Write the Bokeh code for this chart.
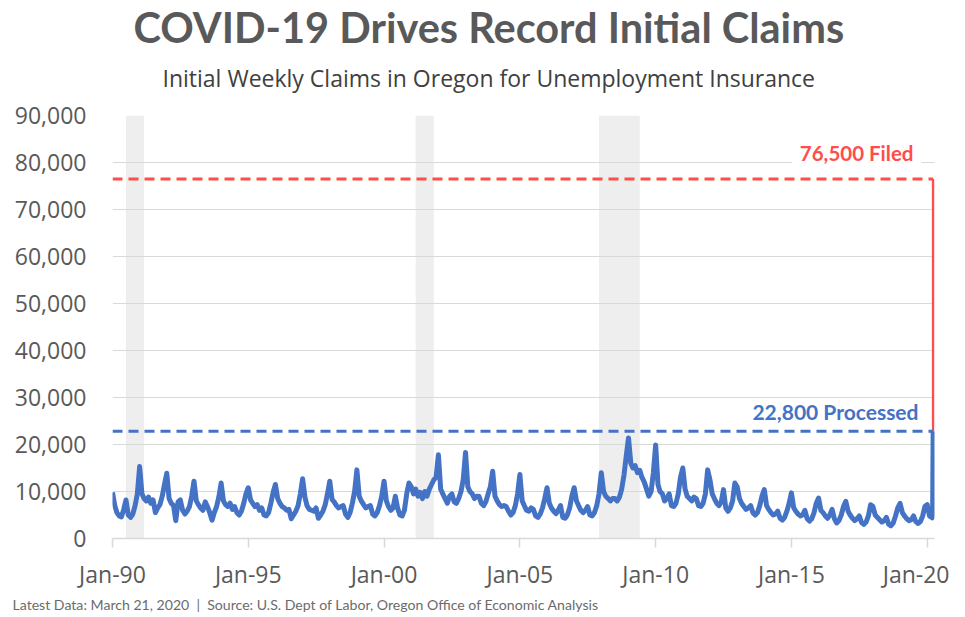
import pandas as pd
from bokeh.plotting import figure
from bokeh.models import (Range1d, FixedTicker, NumeralTickFormatter,
                          DatetimeTickFormatter, Label, Title, ColumnDataSource)
from bokeh.embed import file_html
from bokeh.resources import INLINE

# ---------------- data ----------------
TITLE = "COVID-19 Drives Record Initial Claims"
SUBTITLE = "Initial Weekly Claims in Oregon for Unemployment Insurance"
FOOTER = ("Latest Data: March 21, 2020 \u00a0|\u00a0 Source: U.S. Dept of Labor, "
          "Oregon Office of Economic Analysis")

# monthly readings (start of month), Jan 1990 .. Feb 2020
month_start = pd.date_range("1990-01-01", "2020-02-01", freq="MS")
claims_monthly = [
    9800, 7000, 5500, 4800, 4600, 6200, 8200, 5000, 4500, 5200, 7000, 9500,      # 1990
    15300, 9500, 8500, 8000, 8800, 7500, 8200, 5500, 6500, 7200, 9000, 11500,   # 1991
    13900, 8500, 7500, 7000, 3800, 7800, 8200, 6000, 5200, 5800, 6800, 9000,    # 1992
    12200, 8000, 7200, 6500, 6000, 7800, 6800, 5500, 3900, 5500, 6800, 8800,    # 1993
    11800, 8000, 7200, 6800, 7500, 6200, 6800, 5500, 5000, 5800, 7500, 9500,    # 1994
    10800, 8200, 7500, 6800, 7200, 6000, 6500, 5000, 4800, 5500, 7500, 9800,    # 1995
    11500, 8500, 7500, 6800, 6500, 6000, 6200, 4200, 5000, 5800, 7000, 9500,    # 1996
    12700, 8800, 7000, 6200, 6000, 5800, 6500, 4300, 5000, 5800, 7200, 9500,    # 1997
    12200, 8300, 7800, 7000, 6500, 6800, 7000, 5200, 4500, 5500, 7500, 10000,   # 1998
    14600, 9000, 8000, 7200, 6500, 6800, 7000, 5200, 4800, 5500, 7000, 9000,    # 1999
    12200, 8000, 6800, 6000, 6500, 9000, 6500, 5000, 4800, 6000, 9500, 11800,   # 2000
    11000, 9500, 10500, 9000, 9800, 8500, 10000, 9000, 10500, 11500, 12500, 13000,  # 2001
    17800, 10500, 9500, 8500, 7500, 9000, 9500, 7800, 7500, 8500, 10000, 12500,  # 2002
    18300, 11000, 10000, 9500, 8500, 9000, 9000, 7500, 7000, 7800, 9500, 11000,  # 2003
    14300, 9000, 8000, 7200, 6800, 7000, 6800, 5800, 5000, 5500, 7000, 9500,    # 2004
    13600, 8000, 7000, 6000, 5800, 6500, 6200, 4800, 4500, 5200, 6500, 8500,    # 2005
    10800, 7500, 6500, 5800, 5300, 6000, 7000, 4500, 4300, 5000, 6500, 9000,    # 2006
    10800, 8000, 7000, 6000, 5500, 6000, 6800, 5000, 4800, 5500, 7000, 9500,    # 2007
    14000, 10000, 9000, 8500, 8000, 8500, 8500, 8000, 8800, 10500, 13500, 17500,  # 2008
    21400, 16000, 15000, 15500, 14000, 14500, 13000, 12000, 10500, 9000, 10000, 14000,  # 2009
    19900, 11500, 10000, 9500, 8000, 8500, 9500, 7000, 6800, 7500, 9500, 13000,  # 2010
    15000, 10500, 9000, 8500, 8000, 8800, 8500, 7000, 6800, 7500, 9500, 14600,  # 2011
    12500, 9500, 8500, 7500, 7000, 7800, 10400, 6500, 5800, 6500, 8000, 11800,  # 2012
    11000, 8500, 7500, 6800, 6200, 6500, 7000, 5500, 5000, 5500, 7000, 9000,    # 2013
    10400, 7000, 6200, 5500, 5000, 5200, 5800, 4300, 3900, 4500, 5800, 7500,    # 2014
    9700, 6500, 5800, 5200, 4800, 5000, 6000, 4200, 3700, 4200, 5500, 7500,     # 2015
    8600, 6000, 5500, 4800, 4300, 5000, 6200, 4200, 3300, 3800, 5000, 6800,     # 2016
    7900, 5800, 5000, 4300, 3800, 4200, 4800, 3400, 3000, 3500, 4800, 7200,     # 2017
    6800, 5000, 4500, 4000, 3500, 3800, 4500, 3000, 2700, 3300, 4800, 6500,     # 2018
    7500, 5500, 4800, 4200, 3800, 4000, 4800, 3600, 3200, 3600, 4800, 6800,     # 2019
    7200, 4800,                                                                 # 2020
]
# last weekly readings
final_weeks = ["2020-03-07", "2020-03-14", "2020-03-21"]
final_claims = [4400, 5000, 22800]

FILED = 76500
PROCESSED = 22800
LATEST = "2020-03-21"

recession_start = ["1990-07-01", "2001-03-01", "2007-12-01"]
recession_end = ["1991-03-01", "2001-11-01", "2009-06-01"]

tick_dates = ["1990-01-01", "1995-01-01", "2000-01-01", "2005-01-01",
              "2010-01-01", "2015-01-01", "2020-01-01"]
y_ticks = [0, 10000, 20000, 30000, 40000, 50000, 60000, 70000, 80000, 90000]

# ---------------- layout ----------------
W, H = 949, 614
FL, FR, FT, FB = 112, 934, 115, 539     # plot frame in page pixels
ML, MR, MT, MB = FL, W - FR, FT, H - FB


def ms(d):
    return pd.Timestamp(d).value / 1e6


x0 = ms("1990-01-01")
x_jan20 = ms("2020-01-01")
x1 = x0 + (x_jan20 - x0) * (FR - FL) / (926.7 - FL)
Y1 = 90000


def xpx(px):
    return x0 + (px - FL) / (FR - FL) * (x1 - x0)


def ypx(py):
    return (FB - py) / (FB - FT) * Y1


GRAY = "#595959"
BLUE = "#4472c4"
RED = "#ff4d4d"

p = figure(width=W, height=H, x_axis_type="datetime",
           x_range=Range1d(x0, x1), y_range=Range1d(0, Y1),
           output_backend="svg", toolbar_location=None,
           min_border_left=ML, min_border_right=MR,
           min_border_top=MT, min_border_bottom=MB)
p.outline_line_color = None
p.background_fill_color = "white"
p.border_fill_color = "white"

# recession bands
rec = ColumnDataSource(dict(left=pd.to_datetime(recession_start),
                            right=pd.to_datetime(recession_end)))
p.quad(left="left", right="right", bottom=0, top=Y1, source=rec,
       fill_color="#eeeeee", line_color=None, level="image")

# series
dates = list(month_start) + list(pd.to_datetime(final_weeks))
vals = claims_monthly + final_claims
src = ColumnDataSource(dict(x=dates, y=vals))
p.line("x", "y", source=src, line_color=BLUE, line_width=5, line_join="round")

# reference lines
d_start, d_end = pd.Timestamp("1990-01-01"), pd.Timestamp(LATEST)
p.line([d_start, d_end], [FILED, FILED], line_color=RED, line_width=3,
       line_dash="10 6")
p.line([d_end, d_end], [PROCESSED, FILED], line_color=RED, line_width=2.5)
p.line([d_start, d_end], [PROCESSED, PROCESSED], line_color=BLUE, line_width=3,
       line_dash="10 6")

# axes
p.xgrid.visible = False
p.ygrid.grid_line_color = "#d9d9d9"
p.ygrid.grid_line_width = 1

ya = p.yaxis[0]
ya.ticker = FixedTicker(ticks=y_ticks)
ya.formatter = NumeralTickFormatter(format="0,0")
ya.axis_line_color = None
ya.major_tick_line_color = None
ya.major_tick_out = 0
ya.major_tick_in = 0
ya.minor_tick_line_color = None
ya.major_label_text_font = "Open Sans"
ya.major_label_text_font_size = "23px"
ya.major_label_text_color = GRAY
ya.major_label_standoff = 26

xa = p.xaxis[0]
xa.ticker = FixedTicker(ticks=[ms(d) for d in tick_dates])
fmt = "%b-%y"
xa.formatter = DatetimeTickFormatter(years=fmt, months=fmt, days=fmt, hours=fmt,
                                     hourmin=fmt, minutes=fmt, minsec=fmt,
                                     seconds=fmt, milliseconds=fmt,
                                     microseconds=fmt)
xa.axis_line_color = "#d9d9d9"
xa.axis_line_width = 1.5
xa.major_tick_line_color = "#d9d9d9"
xa.major_tick_line_width = 1.5
xa.major_tick_out = 9
xa.major_tick_in = 0
xa.minor_tick_line_color = None
xa.major_label_text_font = "Open Sans"
xa.major_label_text_font_size = "23px"
xa.major_label_text_color = GRAY
xa.major_label_standoff = 10

# titles (outside the frame), stacked outward from the frame:
# spacer, subtitle, title
p.add_layout(Title(text=" ", align="left", text_font="Lato",
                   text_font_size="2px", standoff=8.5), "above")
p.add_layout(Title(text=SUBTITLE, align="left", offset=50,
                   text_font="Open Sans", text_font_style="normal",
                   text_font_size="23px", text_color="#404040",
                   standoff=17.6), "above")
p.add_layout(Title(text=TITLE, align="left", offset=133 - FL,
                   text_font="Lato", text_font_style="bold",
                   text_font_size="41.5px", text_color=GRAY,
                   standoff=-2), "above")
p.add_layout(Title(text=FOOTER, align="left", offset=12 - FL,
                   text_font="Lato", text_font_style="normal",
                   text_font_size="14.1px", text_color="#6b6b6b",
                   standoff=3), "below")

# annotation labels inside the frame
p.add_layout(Label(x=xpx(921), y=ypx(153), text=f"{FILED:,} Filed",
                   text_align="right", text_baseline="middle", text_font="Lato",
                   text_font_style="bold", text_font_size="20.5px",
                   text_color=RED, background_fill_color="white",
                   padding=8))
p.add_layout(Label(x=xpx(918), y=ypx(412), text=f"{PROCESSED:,} Processed",
                   text_align="right", text_baseline="middle", text_font="Lato",
                   text_font_style="bold", text_font_size="21px",
                   text_color=BLUE))

open("out.html", "w").write(file_html(p, INLINE))
